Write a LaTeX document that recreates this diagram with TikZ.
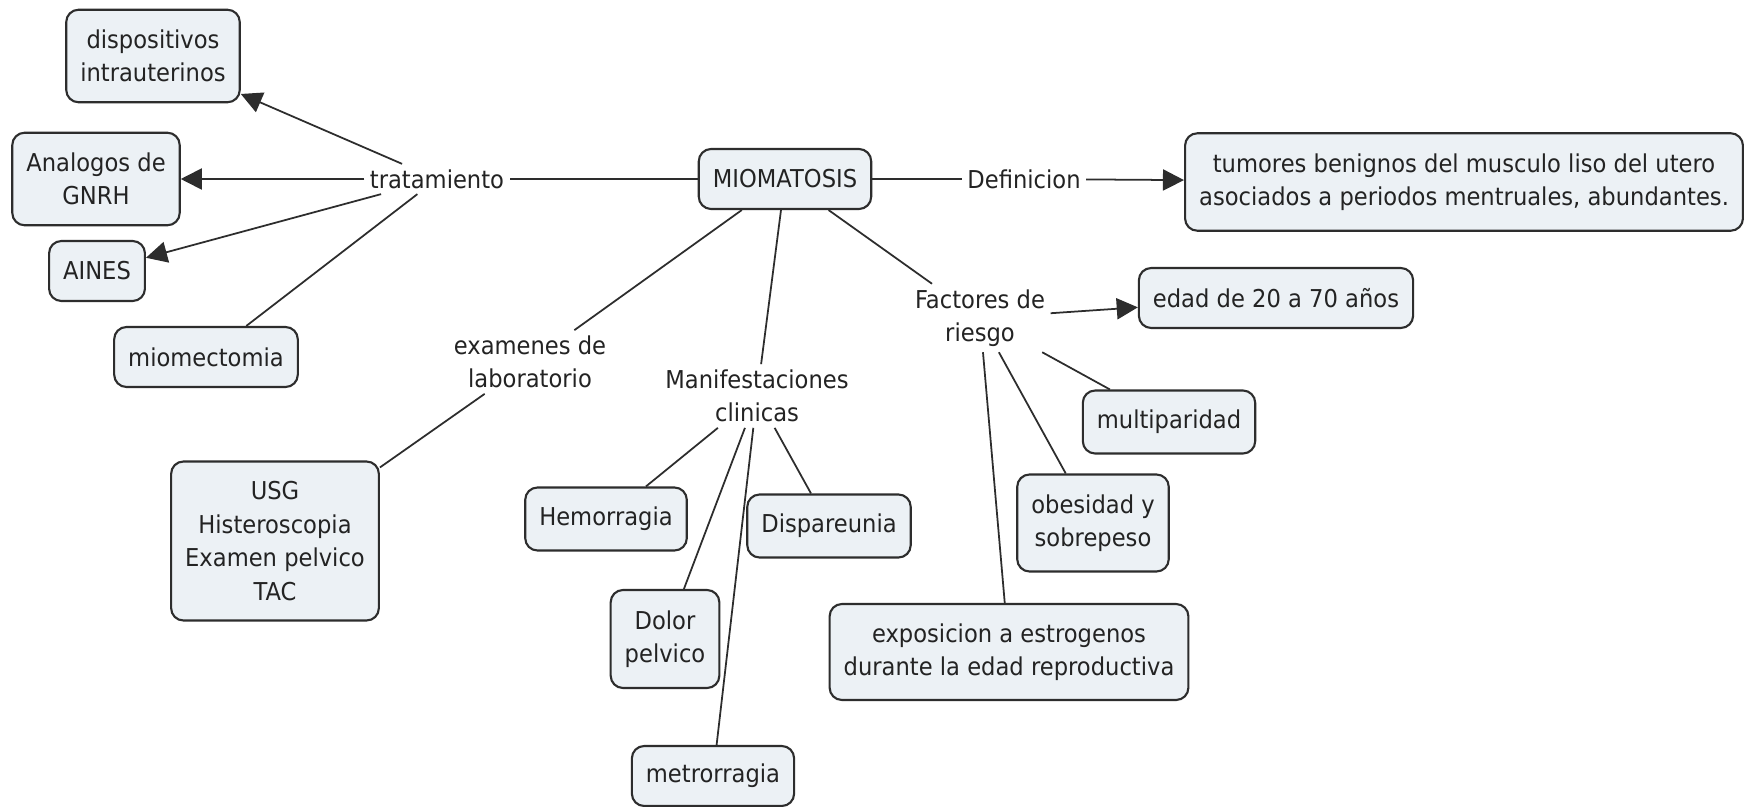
\documentclass[tikz,border=0pt]{standalone}
\usepackage{fontspec}
\setmainfont{DejaVu Sans}[FakeStretch=0.92]
\usetikzlibrary{arrows.meta}
\definecolor{boxfill}{RGB}{236,241,245}
\definecolor{boxline}{RGB}{45,45,45}
\definecolor{inkgray}{RGB}{35,35,35}
\tikzset{
  concept/.style={draw=boxline, line width=1.2pt, fill=boxfill, rounded corners=7pt,
    align=center, inner xsep=8pt, minimum height=1.2cm, text=inkgray,
    font=\fontsize{14}{19}\selectfont},
  linkword/.style={align=center, inner sep=3pt, text=inkgray,
    font=\fontsize{14}{19}\selectfont},
  link/.style={draw=boxline, line width=1pt},
  linkarrow/.style={link, -{Triangle[length=12pt,width=12pt]}}
}

\begin{document}
\begin{tikzpicture}
	\path[use as bounding box, fill=white] (0,0) rectangle (35.16,-16.14);

	% centre
	\node[concept] (mioma) at (15.70,-3.58) {MIOMATOSIS};

	% tratamiento
	\node[linkword] (trat) at (8.74,-3.58) {tratamiento};
		\node[concept, minimum height=1.85cm] (disp) at (3.06,-1.12) {dispositivos\\intrauterinos};
		\node[concept, minimum height=1.85cm] (analog) at (1.92,-3.58) {Analogos de\\GNRH};
		\node[concept] (aines) at (1.94,-5.42) {AINES};
		\node[concept] (miomec) at (4.12,-7.14) {miomectomia};

	% definicion
	\node[linkword] (defin) at (20.48,-3.58) {Definicion};
		\node[concept, minimum height=1.95cm] (tumor) at (29.28,-3.64) {tumores benignos del musculo liso del utero\\asociados a periodos mentruales, abundantes.};

	% examenes
	\node[linkword] (exam) at (10.60,-7.24) {examenes de\\laboratorio};
		\node[concept, minimum height=3.18cm] (usg) at (5.50,-10.82) {USG\\Histeroscopia\\Examen pelvico\\TAC};

	% manifestaciones
	\node[linkword] (manif) at (15.14,-7.92) {Manifestaciones\\clinicas};
		\node[concept, minimum height=1.26cm] (hemor) at (12.12,-10.38) {Hemorragia};
		\node[concept, minimum height=1.26cm] (dispar) at (16.58,-10.52) {Dispareunia};
		\node[concept, minimum height=1.96cm] (dolor) at (13.30,-12.78) {Dolor\\pelvico};
		\node[concept] (metro) at (14.26,-15.52) {metrorragia};

	% factores
	\node[linkword] (factor) at (19.60,-6.36) {Factores de\\riesgo};
		\node[concept] (edad) at (25.52,-5.96) {edad de 20 a 70 años};
		\node[concept, minimum height=1.26cm] (multi) at (23.38,-8.44) {multiparidad};
		\node[concept, minimum height=1.94cm] (obes) at (21.86,-10.46) {obesidad y\\sobrepeso};
		\node[concept, minimum height=1.92cm] (expos) at (20.18,-13.04) {exposicion a estrogenos\\durante la edad reproductiva};

	\draw[link] (mioma) -- (trat);
	\draw[linkarrow] (trat) -- (disp);
	\draw[linkarrow] (trat) -- (analog);
	\draw[linkarrow] (trat) -- (aines);
	\draw[link] (trat) -- (miomec);

	\draw[link] (mioma) -- (defin);
	\draw[linkarrow] (defin) -- (tumor);

	\draw[link] (mioma) -- (exam);
	\draw[link] (exam) -- (usg);

	\draw[link] (mioma) -- (manif);
	\draw[link] (manif) -- (hemor);
	\draw[link] (manif) -- (dolor);
	\draw[link] (manif) -- (metro);
	\draw[link] (manif) -- (dispar);

	\draw[link] (mioma) -- (factor);
	\draw[linkarrow] (factor) -- (edad);
	\draw[link] (factor) -- (multi);
	\draw[link] (factor) -- (obes);
	\draw[link] (factor) -- (expos);
\end{tikzpicture}
\end{document}
